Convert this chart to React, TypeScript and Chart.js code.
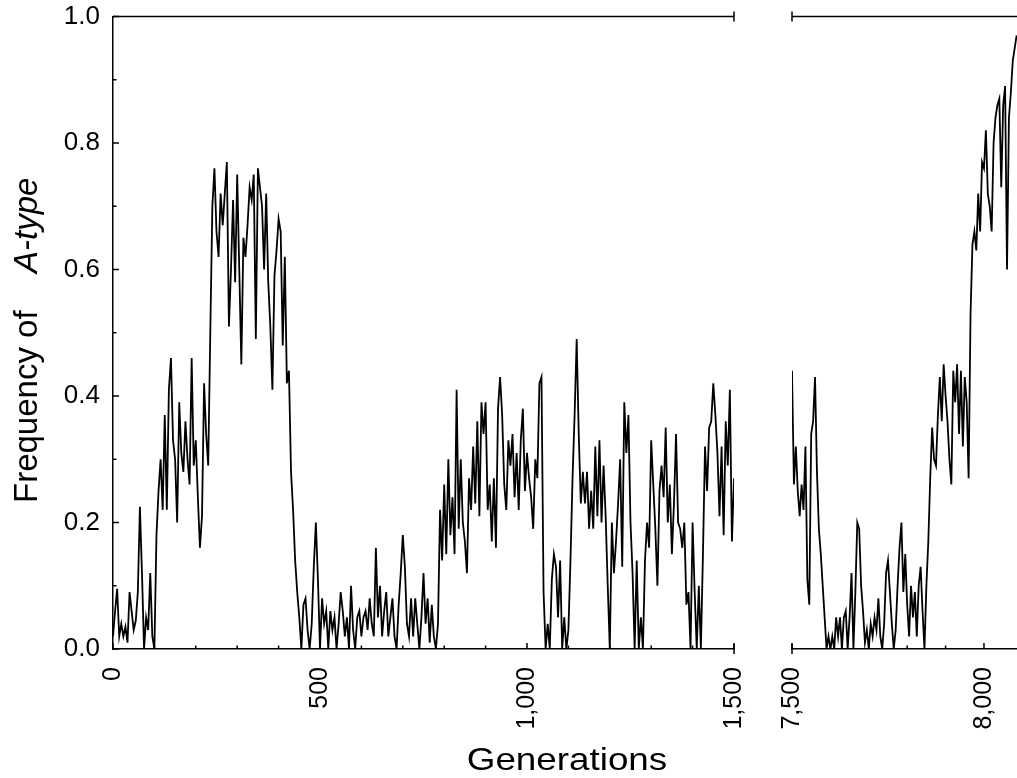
import React, { useEffect, useRef } from "react";
import { Chart, registerables } from "chart.js";

Chart.register(...registerables);

// ---------- data ----------
const leftStartGen = 0;
const leftStepGen = 5;
// frequency of A-type, generations 0..1500 every 5 generations
const leftFreq = [
  0.02, 0.06, 0.095, 0.02, 0.04, 0.02, 0.035, 0.01, 0.09, 0.06, 0.03, 0.045, 0.09, 0.225, 0.12, 0.0, 0.05, 0.03, 0.12, 0.02,
  0.0, 0.18, 0.25, 0.3, 0.22, 0.37, 0.22, 0.41, 0.46, 0.33, 0.3, 0.2, 0.39, 0.31, 0.28, 0.36, 0.3, 0.26, 0.46, 0.29,
  0.33, 0.24, 0.16, 0.21, 0.42, 0.34, 0.29, 0.5, 0.7, 0.76, 0.66, 0.62, 0.72, 0.67, 0.72, 0.77, 0.51, 0.6, 0.71, 0.58,
  0.75, 0.6, 0.45, 0.65, 0.62, 0.67, 0.73, 0.71, 0.75, 0.49, 0.76, 0.73, 0.7, 0.6, 0.72, 0.58, 0.51, 0.41, 0.59, 0.63,
  0.68, 0.66, 0.48, 0.62, 0.42, 0.44, 0.28, 0.22, 0.14, 0.09, 0.05, 0.0, 0.07, 0.08, 0.03, 0.0, 0.04, 0.13, 0.2, 0.11,
  0.0, 0.08, 0.04, 0.06, 0.0, 0.06, 0.03, 0.05, 0.0, 0.04, 0.09, 0.06, 0.02, 0.05, 0.0, 0.1, 0.03, 0.0, 0.05, 0.06,
  0.02, 0.05, 0.06, 0.03, 0.08, 0.04, 0.02, 0.16, 0.05, 0.1, 0.02, 0.06, 0.09, 0.02, 0.05, 0.08, 0.02, 0.0, 0.07, 0.12,
  0.18, 0.13, 0.04, 0.02, 0.08, 0.02, 0.08, 0.04, 0.0, 0.05, 0.12, 0.04, 0.08, 0.01, 0.07, 0.02, 0.0, 0.04, 0.22, 0.14,
  0.26, 0.15, 0.3, 0.18, 0.24, 0.15, 0.41, 0.19, 0.3, 0.2, 0.17, 0.12, 0.27, 0.22, 0.32, 0.23, 0.36, 0.21, 0.39, 0.34,
  0.39, 0.22, 0.26, 0.17, 0.27, 0.16, 0.38, 0.43, 0.37, 0.26, 0.22, 0.33, 0.29, 0.34, 0.24, 0.31, 0.22, 0.33, 0.38, 0.25,
  0.31, 0.27, 0.24, 0.19, 0.3, 0.27, 0.42, 0.43, 0.09, 0.0, 0.04, 0.0, 0.11, 0.15, 0.13, 0.05, 0.14, 0.0, 0.05, 0.0,
  0.03, 0.14, 0.27, 0.37, 0.49, 0.34, 0.23, 0.28, 0.23, 0.28, 0.19, 0.25, 0.19, 0.32, 0.21, 0.33, 0.2, 0.29, 0.21, 0.1,
  0.0, 0.2, 0.12, 0.17, 0.23, 0.3, 0.13, 0.39, 0.31, 0.37, 0.2, 0.12, 0.0, 0.14, 0.0, 0.05, 0.0, 0.14, 0.2, 0.16,
  0.33, 0.26, 0.19, 0.1, 0.25, 0.29, 0.24, 0.35, 0.2, 0.26, 0.15, 0.23, 0.34, 0.2, 0.19, 0.16, 0.2, 0.07, 0.09, 0.0,
  0.2, 0.09, 0.0, 0.1, 0.0, 0.15, 0.32, 0.25, 0.35, 0.36, 0.42, 0.37, 0.31, 0.21, 0.32, 0.18, 0.36, 0.29, 0.41, 0.17,
  0.27,
];

const rightStartGen = 7500;
const rightStepGen = 5;
// frequency of A-type, generations 7500..8085 every 5 generations
const rightFreq = [
  0.44, 0.26, 0.32, 0.25, 0.21, 0.26, 0.22, 0.32, 0.11, 0.07, 0.34, 0.36, 0.43, 0.28, 0.19, 0.15, 0.1, 0.05, 0.0, 0.02,
  0.0, 0.02, 0.0, 0.05, 0.02, 0.05, 0.0, 0.05, 0.06, 0.0, 0.05, 0.12, 0.0, 0.09, 0.2, 0.19, 0.1, 0.06, 0.01, 0.03,
  0.0, 0.04, 0.02, 0.05, 0.03, 0.08, 0.02, 0.0, 0.04, 0.12, 0.14, 0.09, 0.04, 0.0, 0.03, 0.1, 0.16, 0.2, 0.09, 0.15,
  0.07, 0.02, 0.1, 0.05, 0.09, 0.02, 0.1, 0.13, 0.06, 0.0, 0.1, 0.17, 0.27, 0.35, 0.3, 0.29, 0.37, 0.43, 0.36, 0.45,
  0.4, 0.36, 0.3, 0.26, 0.44, 0.39, 0.45, 0.34, 0.44, 0.32, 0.43, 0.39, 0.27, 0.53, 0.64, 0.66, 0.63, 0.72, 0.66, 0.77,
  0.76, 0.82, 0.72, 0.7, 0.66, 0.8, 0.84, 0.86, 0.87, 0.73, 0.86, 0.89, 0.6, 0.84, 0.88, 0.93, 0.95, 0.97,
];

// ---------- axes ----------
const yMin = 0;
const yMax = 1;
const yTickValues = [0, 0.2, 0.4, 0.6, 0.8, 1.0];
const yTickLabels = ["0.0", "0.2", "0.4", "0.6", "0.8", "1.0"];
const yMinorTicks = [0.1, 0.3, 0.5, 0.7, 0.9];

const leftXMin = 0;
const leftXMax = 1500;
const leftTickValues = [0, 500, 1000, 1500];
const leftTickLabels = ["0", "500", "1,000", "1,500"];
const leftMinorTicks = [100, 200, 300, 400, 600, 700, 800, 900, 1100, 1200, 1300, 1400];

const rightXMin = 7500;
const rightXMax = 8086;
const rightTickValues = [7500, 8000];
const rightTickLabels = ["7,500", "8,000"];
const rightMinorTicks = [7600, 7700, 7800, 7900];

const xTitle = "Generations";
const yTitlePlain = "Frequency of";
const yTitleItalic = "A-type";

// ---------- style ----------
const FONT = '"Liberation Sans", Arial, Helvetica, sans-serif';
const W = 1017;
const H = 778;
const PLOT_TOP = 16.5;
const PLOT_BOTTOM = 649;
const LEFT_PLOT_LEFT = 113;
const LEFT_PLOT_RIGHT = 734;
const RIGHT_PLOT_LEFT = 792;

function series(start: number, step: number, values: number[]) {
  return values.map((v, i) => ({ x: start + i * step, y: v }));
}

function seg(ctx: CanvasRenderingContext2D, x1: number, y1: number, x2: number, y2: number) {
  ctx.beginPath();
  ctx.moveTo(x1, y1);
  ctx.lineTo(x2, y2);
  ctx.stroke();
}

function framePlugin(opts: {
  capSide: "left" | "right";
  xMajor: number[];
  xMinor: number[];
  yAxis: boolean;
}) {
  return {
    id: "frame",
    afterDraw(chart: any) {
      const { ctx, chartArea: a, scales } = chart;
      const xs = scales.x;
      const ys = scales.y;
      ctx.save();
      ctx.strokeStyle = "#000";
      ctx.lineWidth = 1.5;
      // top line
      seg(ctx, a.left, a.top, a.right, a.top);
      // caps at the axis break
      const cx = opts.capSide === "right" ? a.right : a.left;
      seg(ctx, cx, a.top - 5, cx, a.top + 5);
      seg(ctx, cx, a.bottom - 5, cx, a.bottom + 5);
      // inward x ticks
      opts.xMajor.forEach((v) => {
        const px = xs.getPixelForValue(v);
        seg(ctx, px, a.bottom, px, a.bottom - 6);
      });
      opts.xMinor.forEach((v) => {
        const px = xs.getPixelForValue(v);
        if (px >= a.left && px <= a.right) seg(ctx, px, a.bottom, px, a.bottom - 3.5);
      });
      if (opts.yAxis) {
        yTickValues.forEach((v) => {
          const py = ys.getPixelForValue(v);
          seg(ctx, a.left, py, a.left + 6, py);
        });
        yMinorTicks.forEach((v) => {
          const py = ys.getPixelForValue(v);
          seg(ctx, a.left, py, a.left + 3.5, py);
        });
      }
      ctx.restore();
    },
  };
}

const titlesPlugin = {
  id: "titles",
  afterDraw(chart: any) {
    const { ctx } = chart;
    ctx.save();
    ctx.fillStyle = "#000";
    // x title
    ctx.save();
    ctx.translate(567, 770);
    ctx.scale(1.15, 1);
    ctx.font = `32px ${FONT}`;
    ctx.textAlign = "center";
    ctx.textBaseline = "alphabetic";
    ctx.fillText(xTitle, 0, 0);
    ctx.restore();
    // y title (rotated)
    ctx.save();
    ctx.translate(37, 0);
    ctx.rotate(-Math.PI / 2);
    ctx.textAlign = "left";
    ctx.textBaseline = "alphabetic";
    ctx.font = `33px ${FONT}`;
    ctx.fillText(yTitlePlain, -503, 0);
    ctx.font = `italic 33px ${FONT}`;
    ctx.fillText(yTitleItalic, -273, 0);
    ctx.restore();
    ctx.restore();
  },
};

function xScale(min: number, max: number, values: number[], labels: string[]) {
  return {
    type: "linear" as const,
    min,
    max,
    afterBuildTicks: (s: any) => {
      s.ticks = values.map((v) => ({ value: v }));
    },
    afterFit: (s: any) => {
      s.height = H - PLOT_BOTTOM;
      s.paddingLeft = 0;
      s.paddingRight = 0;
      s.paddingTop = 0;
      s.paddingBottom = 0;
    },
    grid: { display: false, drawTicks: false },
    border: { display: true, color: "#000", width: 1.5 },
    ticks: {
      autoSkip: false,
      minRotation: 90,
      maxRotation: 90,
      padding: 18,
      color: "#000",
      font: { family: FONT, size: 25, lineHeight: 1 },
      callback: (_v: any, i: number) => labels[i],
    },
  };
}

function yScale(visible: boolean) {
  return {
    type: "linear" as const,
    display: visible,
    min: yMin,
    max: yMax,
    afterBuildTicks: (s: any) => {
      s.ticks = yTickValues.map((v) => ({ value: v }));
    },
    afterFit: (s: any) => {
      s.width = visible ? LEFT_PLOT_LEFT : 0;
      s.paddingLeft = 0;
      s.paddingRight = 0;
      s.paddingTop = 0;
      s.paddingBottom = 0;
    },
    grid: { display: false, drawTicks: false },
    border: { display: visible, color: "#000", width: 1.5 },
    ticks: {
      padding: 13,
      color: "#000",
      font: { family: FONT, size: 26, lineHeight: 1 },
      callback: (_v: any, i: number) => yTickLabels[i],
    },
  };
}

function lineDataset(data: { x: number; y: number }[]) {
  return {
    data,
    borderColor: "#000",
    borderWidth: 1.8,
    pointRadius: 0,
    tension: 0,
    fill: false,
  };
}

export default function App() {
  const leftRef = useRef<HTMLCanvasElement>(null);
  const rightRef = useRef<HTMLCanvasElement>(null);

  useEffect(() => {
    const left = new Chart(leftRef.current as HTMLCanvasElement, {
      type: "line",
      data: { datasets: [lineDataset(series(leftStartGen, leftStepGen, leftFreq))] },
      options: {
        animation: false,
        responsive: false,
        layout: { padding: { left: 0, right: W - LEFT_PLOT_RIGHT, top: PLOT_TOP, bottom: 0 } },
        plugins: { legend: { display: false }, tooltip: { enabled: false }, title: { display: false } },
        scales: {
          x: xScale(leftXMin, leftXMax, leftTickValues, leftTickLabels),
          y: yScale(true),
        },
      } as any,
      plugins: [
        framePlugin({ capSide: "right", xMajor: leftTickValues, xMinor: leftMinorTicks, yAxis: true }),
        titlesPlugin,
      ],
    });
    const right = new Chart(rightRef.current as HTMLCanvasElement, {
      type: "line",
      data: { datasets: [lineDataset(series(rightStartGen, rightStepGen, rightFreq))] },
      options: {
        animation: false,
        responsive: false,
        layout: { padding: { left: RIGHT_PLOT_LEFT, right: 0, top: PLOT_TOP, bottom: 0 } },
        plugins: { legend: { display: false }, tooltip: { enabled: false }, title: { display: false } },
        scales: {
          x: xScale(rightXMin, rightXMax, rightTickValues, rightTickLabels),
          y: yScale(false),
        },
      } as any,
      plugins: [framePlugin({ capSide: "left", xMajor: rightTickValues, xMinor: rightMinorTicks, yAxis: false })],
    });
    return () => {
      left.destroy();
      right.destroy();
    };
  }, []);

  return (
    <div style={{ position: "absolute", left: 0, top: 0, width: W, height: H, background: "#fff" }}>
      <canvas ref={leftRef} width={W} height={H} style={{ position: "absolute", left: 0, top: 0 }} />
      <canvas ref={rightRef} width={W} height={H} style={{ position: "absolute", left: 0, top: 0 }} />
    </div>
  );
}
